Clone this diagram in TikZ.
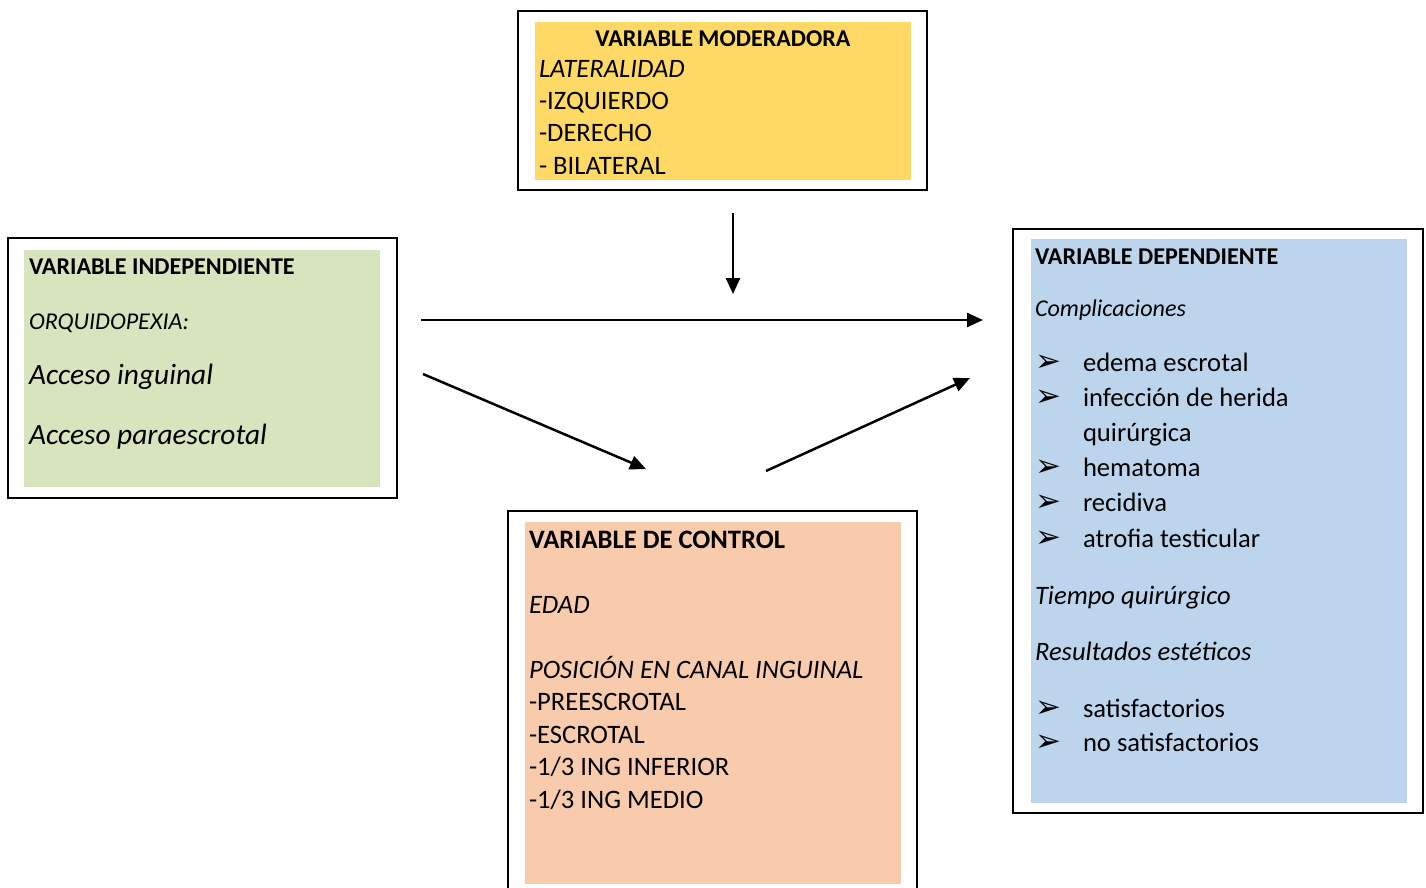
\documentclass[tikz,border=0pt]{standalone}
\usepackage{fontspec}
\setmainfont{Carlito}
\newfontfamily\symfont{DejaVu Sans}
\usetikzlibrary{arrows.meta}
\definecolor{modfill}{HTML}{FFD966}
\definecolor{indfill}{HTML}{D7E4BD}
\definecolor{ctlfill}{HTML}{F8CBAD}
\definecolor{depfill}{HTML}{BDD5EC}
\newcommand\fsA{\fontsize{24.1pt}{29pt}\selectfont}
\newcommand\fsB{\fontsize{26.6pt}{32pt}\selectfont}
\newcommand\fsL{\fontsize{29.4pt}{35pt}\selectfont}
\newcommand\bul{{\symfont\fontsize{31pt}{36pt}\selectfont ➢}}
\begin{document}
\begin{tikzpicture}[x=1pt,y=-1pt,
  frame/.style={draw=black, line width=2pt, fill=white, inner sep=0pt, outer sep=0pt},
  panel/.style={draw=none, inner sep=0pt, outer sep=0pt},
  txt/.style={anchor=base west, inner sep=0pt, outer sep=0pt, yshift=-1pt},
  conn/.style={line width=2.5pt, -{Triangle[length=16pt,width=14pt]}}]
\useasboundingbox (0,0) rectangle (1426,888);
\clip (0,0) rectangle (1426,888);

% ---------- moderadora ----------
\node[frame, minimum width=409pt, minimum height=179pt] (modbox) at (722.5,100.5) {};
\node[panel, fill=modfill, minimum width=376pt, minimum height=158pt] (modpan) at (723,101) {};
\node[anchor=base, inner sep=0pt, yshift=-1.5pt] (modt) at (723,45) {\fsA\bfseries VARIABLE MODERADORA};
\node[txt] (mod1) at (539,77) {\fsB\itshape LATERALIDAD};
\node[txt] (mod2) at (539,109) {\fsB -IZQUIERDO};
\node[txt] (mod3) at (539,141) {\fsB -DERECHO};
\node[txt] (mod4) at (539,173) {\fsB - BILATERAL};

% ---------- independiente ----------
\node[frame, minimum width=389pt, minimum height=260pt] (indbox) at (202.5,368) {};
\node[panel, fill=indfill, minimum width=356pt, minimum height=237pt] (indpan) at (202,368.5) {};
\node[txt] (ind1) at (29,273) {\fsA\bfseries VARIABLE INDEPENDIENTE};
\node[txt] (ind2) at (29,328) {\fsA\itshape ORQUIDOPEXIA:};
\node[txt] (ind3) at (29,383) {\fsL\itshape Acceso inguinal};
\node[txt] (ind4) at (29,443) {\fsL\itshape Acceso paraescrotal};

% ---------- control ----------
\draw[line width=2pt] (508,900) -- (508,511) -- (917,511) -- (917,900);
\coordinate (ctlbox) at (712.5,700);
\node[panel, fill=ctlfill, minimum width=376pt, minimum height=362pt] (ctlpan) at (713,703) {};
\node[txt] (ctl1) at (529,547) {\fsB\bfseries VARIABLE DE CONTROL};
\node[txt] (ctl2) at (529,612) {\fsB\itshape EDAD};
\node[txt] (ctl3) at (529,677) {\fsB\itshape POSICIÓN EN CANAL INGUINAL};
\node[txt] (ctl4) at (529,709) {\fsB -PREESCROTAL};
\node[txt] (ctl5) at (529,742) {\fsB -ESCROTAL};
\node[txt] (ctl6) at (529,774) {\fsB -1/3 ING INFERIOR};
\node[txt] (ctl7) at (529,807) {\fsB -1/3 ING MEDIO};

% ---------- dependiente ----------
\node[frame, minimum width=410pt, minimum height=584pt] (depbox) at (1218,521) {};
\node[panel, fill=depfill, minimum width=376pt, minimum height=564pt] (deppan) at (1219,521) {};
\node[txt] (dep1) at (1035,263) {\fsA\bfseries VARIABLE DEPENDIENTE};
\node[txt] (dep2) at (1035,315) {\fsA\itshape Complicaciones};
\node[txt] (b1) at (1035,370) {\bul};
\node[txt] (d1) at (1083,370) {\fsB edema escrotal};
\node[txt] (b2) at (1035,405) {\bul};
\node[txt] (d2) at (1083,405) {\fsB infección de herida};
\node[txt] (d2b) at (1083,440) {\fsB quirúrgica};
\node[txt] (b3) at (1035,475) {\bul};
\node[txt] (d3) at (1083,475) {\fsB hematoma};
\node[txt] (b4) at (1035,510) {\bul};
\node[txt] (d4) at (1083,510) {\fsB recidiva};
\node[txt] (b5) at (1035,546) {\bul};
\node[txt] (d5) at (1083,546) {\fsB atrofia testicular};
\node[txt] (dep3) at (1035,603) {\fsB\itshape Tiempo quirúrgico};
\node[txt] (dep4) at (1035,659) {\fsB\itshape Resultados estéticos};
\node[txt] (b6) at (1035,716) {\bul};
\node[txt] (d6) at (1083,716) {\fsB satisfactorios};
\node[txt] (b7) at (1035,750) {\bul};
\node[txt] (d7) at (1083,750) {\fsB no satisfactorios};

% ---------- connectors ----------
\coordinate (a1s) at (733,213);
\coordinate (a1e) at (733,294);
\coordinate (a2s) at (421,320);
\coordinate (a2e) at (983,320);
\coordinate (a3s) at (423,374);
\coordinate (a3e) at (646,469);
\coordinate (a4s) at (766,471);
\coordinate (a4e) at (970,378);
\draw[conn] (a1s) -- (a1e);
\draw[conn] (a2s) -- (a2e);
\draw[conn] (a3s) -- (a3e);
\draw[conn] (a4s) -- (a4e);
\end{tikzpicture}
\end{document}
